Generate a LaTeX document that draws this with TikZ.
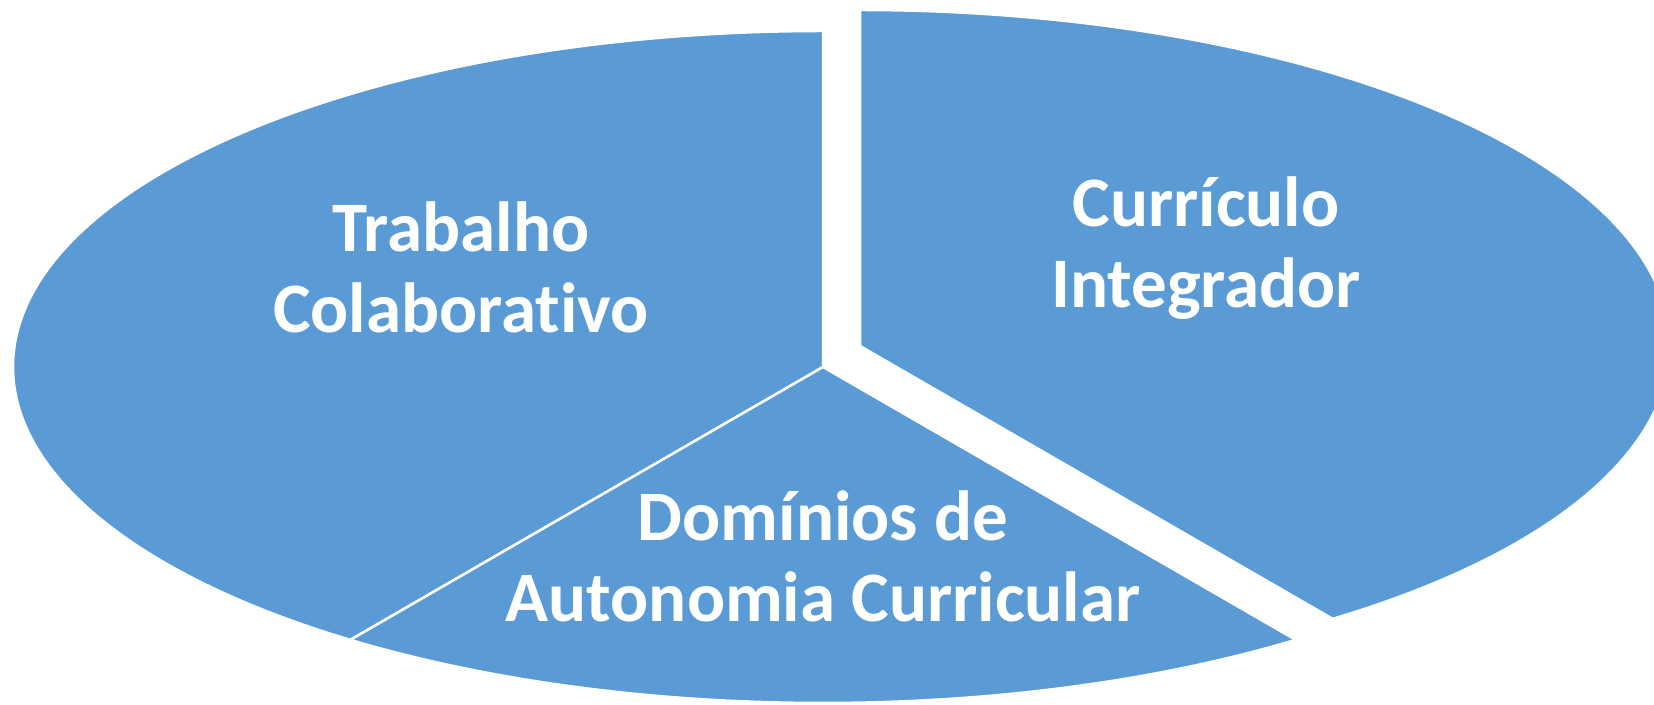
\documentclass[tikz,border=0pt]{standalone}
\usepackage{fontspec}
\newfontfamily\lblfont[Ligatures={NoCommon,NoRequired,NoContextual}]{Carlito}
\usetikzlibrary{calc}
\definecolor{pieblue}{HTML}{5B9BD5}
\begin{document}
\begin{tikzpicture}[x=1pt,y=1pt,
  sector/.style={fill=pieblue, draw=white, line width=2.5pt, line join=miter},
  lbl/.style={text=white, align=center, anchor=base, inner sep=0pt,
    font=\lblfont\bfseries\fontsize{71}{81}\selectfont}]
\useasboundingbox (0,0) rectangle (1654,704);
\clip (0,0) rectangle (1654,704);
% centre of the pie and the exploded centre
\coordinate (V) at (823,337);
\coordinate (Vc) at (860,358);
% Trabalho Colaborativo
\fill[sector] (V) -- ($(V)+(0,336)$)
  arc[start angle=90, end angle=234.3, x radius=810pt, y radius=336pt] -- cycle;
% Dominios
\fill[sector] (V) -- ($(V)+(234.3:810pt and 336pt)$)
  arc[start angle=234.3, end angle=305.7, x radius=810pt, y radius=336pt] -- cycle;
% Curriculo (exploded)
\fill[sector] (Vc) -- ($(Vc)+(-54.3:810pt and 336pt)$)
  arc[start angle=-54.3, end angle=90, x radius=810pt, y radius=336pt] -- cycle;
\node[lbl] (trab) at (461,371) {Trabalho\\Colaborativo};
\node[lbl] (curr) at (1206,396) {Currículo\\Integrador};
\node[lbl] (dom) at (823,82) {Domínios de\\Autonomia Curricular};
\end{tikzpicture}
\end{document}
